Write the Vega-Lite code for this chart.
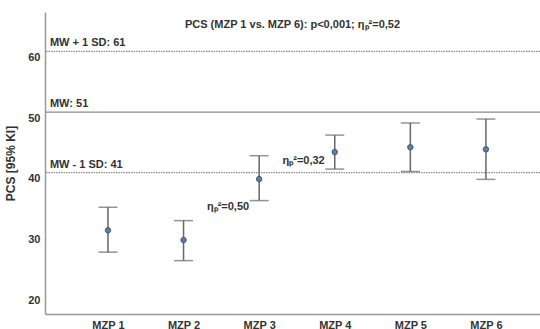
{
  "$schema": "https://vega.github.io/schema/vega-lite/v6.json",
  "autosize": {"type": "none"},
  "width": 495,
  "height": 302,
  "padding": {"left": 45, "top": 12, "right": 0, "bottom": 15},
  "background": "white",
  "title": {
    "text": "PCS (MZP 1 vs. MZP 6): p<0,001; ηₚ²=0,52",
    "anchor": "middle",
    "frame": "group",
    "offset": -27,
    "baseline": "alphabetic",
    "font": "Liberation Sans",
    "fontSize": 11,
    "fontWeight": "bold",
    "color": "#333333"
  },
  "config": {
    "view": {"stroke": null},
    "axis": {
      "grid": false,
      "ticks": false,
      "domainColor": "#999999",
      "domainWidth": 1.5,
      "labelFont": "Liberation Sans",
      "labelFontWeight": "bold",
      "labelFontSize": 11,
      "labelColor": "#333333",
      "titleFont": "Liberation Sans",
      "titleFontWeight": "bold",
      "titleFontSize": 12,
      "titleColor": "#333333"
    },
    "text": {"font": "Liberation Sans", "fontWeight": "bold", "fontSize": 11, "color": "#333333"}
  },
  "datasets": {
    "points": [
      {"mzp": "MZP 1", "mean": 31.5, "lo": 27.9, "hi": 35.3},
      {"mzp": "MZP 2", "mean": 29.9, "lo": 26.5, "hi": 33.1},
      {"mzp": "MZP 3", "mean": 39.95, "lo": 36.4, "hi": 43.8},
      {"mzp": "MZP 4", "mean": 44.4, "lo": 41.6, "hi": 47.2},
      {"mzp": "MZP 5", "mean": 45.2, "lo": 41.2, "hi": 49.2},
      {"mzp": "MZP 6", "mean": 44.85, "lo": 39.9, "hi": 49.85}
    ],
    "refs": [
      {"value": 61, "label": "MW + 1 SD: 61", "kind": "sd", "mzp": "MZP 1"},
      {"value": 51, "label": "MW: 51", "kind": "mw", "mzp": "MZP 1"},
      {"value": 41, "label": "MW - 1 SD: 41", "kind": "sd", "mzp": "MZP 1"}
    ],
    "etas": [
      {"mzp": "MZP 3", "y": 35.3, "label": "ηₚ²=0,50"},
      {"mzp": "MZP 4", "y": 42.9, "label": "ηₚ²=0,32"}
    ]
  },
  "encoding": {
    "x": {
      "field": "mzp",
      "type": "ordinal",
      "sort": ["MZP 1", "MZP 2", "MZP 3", "MZP 4", "MZP 5", "MZP 6"],
      "scale": {"type": "point", "padding": 0.774, "align": 0.538, "domain": ["MZP 1", "MZP 2", "MZP 3", "MZP 4", "MZP 5", "MZP 6"]},
      "axis": {"title": null, "labelAngle": 0, "labelPadding": 5}
    }
  },
  "layer": [
    {
      "data": {"name": "refs"},
      "mark": {"type": "rule", "strokeWidth": 1.2},
      "encoding": {
        "x": null,
        "y": {"field": "value", "type": "quantitative"},
        "color": {"field": "kind", "type": "nominal", "scale": {"domain": ["sd", "mw"], "range": ["#8c8c8c", "#8c8c8c"]}, "legend": null},
        "strokeDash": {"field": "kind", "type": "nominal", "scale": {"domain": ["sd", "mw"], "range": [[1.5, 1], [1, 0]]}, "legend": null},
        "strokeWidth": {"field": "kind", "type": "nominal", "scale": {"domain": ["sd", "mw"], "range": [1, 1.6]}, "legend": null}
      }
    },
    {
      "data": {"name": "refs"},
      "mark": {"type": "text", "align": "left", "baseline": "bottom", "dx": -58, "dy": -3},
      "encoding": {
        "y": {"field": "value", "type": "quantitative"},
        "text": {"field": "label"}
      }
    },
    {
      "data": {"name": "points"},
      "mark": {"type": "rule", "color": "#666666", "strokeWidth": 1.5},
      "encoding": {
        "y": {"field": "lo", "type": "quantitative", "scale": {"domain": [17.7, 67.5], "nice": false, "zero": false}, "axis": {"title": "PCS [95% KI]", "values": [20, 30, 40, 50, 60], "labelPadding": 5, "titlePadding": 10}},
        "y2": {"field": "hi"}
      }
    },
    {
      "data": {"name": "points"},
      "mark": {"type": "tick", "color": "#666666", "size": 19, "thickness": 1.5, "orient": "horizontal"},
      "encoding": {"y": {"field": "lo", "type": "quantitative"}}
    },
    {
      "data": {"name": "points"},
      "mark": {"type": "tick", "color": "#666666", "size": 19, "thickness": 1.5, "orient": "horizontal"},
      "encoding": {"y": {"field": "hi", "type": "quantitative"}}
    },
    {
      "data": {"name": "points"},
      "mark": {"type": "point", "filled": true, "shape": "circle", "size": 30, "color": "#5b7eaa", "stroke": "#3b4a60", "strokeWidth": 0.8, "opacity": 1},
      "encoding": {"y": {"field": "mean", "type": "quantitative"}}
    },
    {
      "data": {"name": "etas"},
      "mark": {"type": "text", "align": "right", "baseline": "middle", "dx": -10},
      "encoding": {
        "y": {"field": "y", "type": "quantitative"},
        "text": {"field": "label"}
      }
    }
  ]
}
